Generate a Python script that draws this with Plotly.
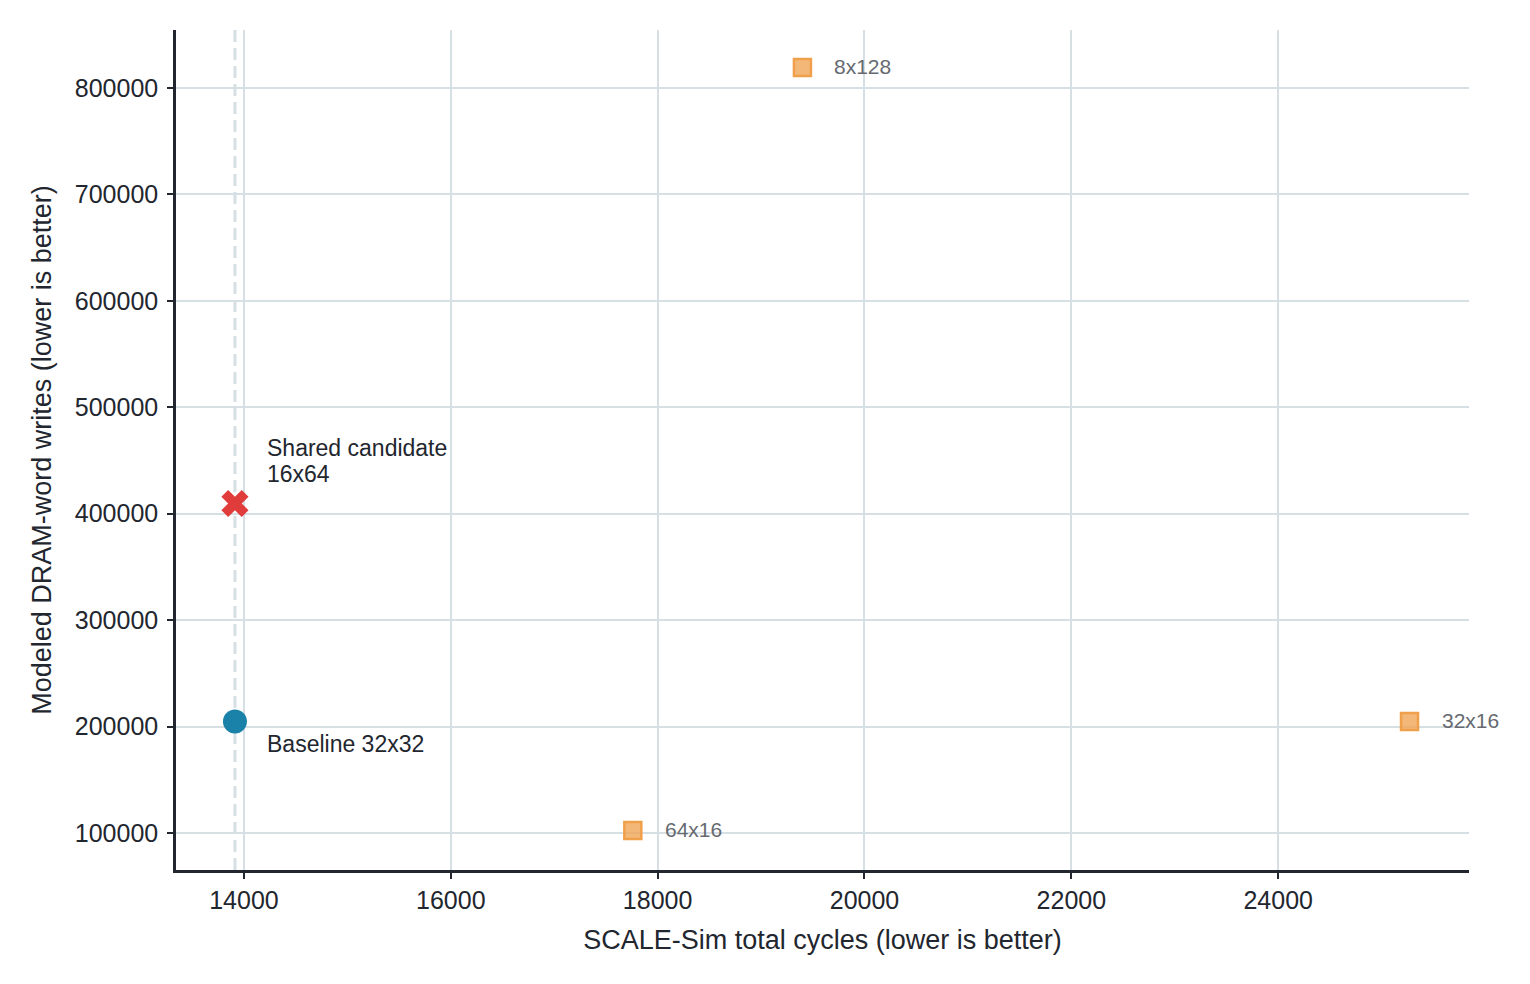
import plotly.graph_objects as go

# baseline / shared candidate / alternative array shapes
baseline_label = "Baseline 32x32"
baseline_cycles = [13913]
baseline_writes = [204800]

shared_label = ["Shared candidate", "16x64"]
shared_cycles = [13913]
shared_writes = [409600]

alt_labels = ["8x128", "64x16", "32x16"]
alt_cycles = [19400, 17760, 25270]
alt_writes = [819200, 102400, 204800]

y_ticks = [100000, 200000, 300000, 400000, 500000, 600000, 700000, 800000]
x_ticks = [14000, 16000, 18000, 20000, 22000, 24000]

FONT = "Liberation Sans, Arial, sans-serif"
GRID = "#d6dfe3"
AXIS = "#22262e"

fig = go.Figure()

fig.add_trace(go.Scatter(
    x=alt_cycles, y=alt_writes, mode="markers",
    marker=dict(symbol="square", size=17, color="rgba(240,165,85,0.8)",
                line=dict(color="#f0a04b", width=2.5)),
    cliponaxis=False, showlegend=False,
))

fig.add_trace(go.Scatter(
    x=baseline_cycles, y=baseline_writes, mode="markers",
    marker=dict(symbol="circle", size=24, color="#1a82a8"),
    cliponaxis=False, showlegend=False,
))

fig.add_trace(go.Scatter(
    x=shared_cycles, y=shared_writes, mode="markers",
    marker=dict(symbol="x", size=24, color="#e03c3c", line=dict(width=0)),
    cliponaxis=False, showlegend=False,
))

# reference line at the baseline cycle count
fig.add_vline(x=baseline_cycles[0], line=dict(color=GRID, width=3, dash="12px,6px"),
              layer="below")

for cx, wy, lab in zip(alt_cycles, alt_writes, alt_labels):
    fig.add_annotation(x=cx, y=wy, text=lab, showarrow=False,
                       xanchor="left", yanchor="middle", xshift=30, yshift=1,
                       font=dict(size=21, color="#666a70", family=FONT))

fig.add_annotation(x=baseline_cycles[0], y=baseline_writes[0], text=baseline_label,
                   showarrow=False, xanchor="left", yanchor="top",
                   xshift=30, yshift=-8, align="left",
                   font=dict(size=23, color=AXIS, family=FONT))
for i, line in enumerate(shared_label):
    fig.add_annotation(x=shared_cycles[0], y=shared_writes[0], text=line,
                       showarrow=False, xanchor="left", yanchor="middle",
                       xshift=30, yshift=55 - 26 * i, align="left",
                       font=dict(size=23, color=AXIS, family=FONT))

fig.update_layout(
    width=1522, height=976,
    margin=dict(l=168, r=61, t=22, b=114),
    plot_bgcolor="white", paper_bgcolor="white",
    font=dict(family=FONT, size=25, color=AXIS),
    xaxis=dict(
        title=dict(text="SCALE-Sim total cycles (lower is better)", standoff=18,
                   font=dict(size=27)),
        range=[13343, 25845], tickvals=x_ticks, ticktext=[str(v) for v in x_ticks],
        showgrid=True, gridcolor=GRID, gridwidth=2,
        showline=True, linecolor=AXIS, linewidth=2.5,
        ticks="outside", ticklen=6, tickwidth=2, tickcolor=AXIS,
        zeroline=False,
    ),
    yaxis=dict(
        title=dict(text="Modeled DRAM-word writes (lower is better)", standoff=16,
                   font=dict(size=27)),
        range=[65200, 854500], tickvals=y_ticks, ticktext=[str(v) for v in y_ticks],
        ticklabelstandoff=4,
        showgrid=True, gridcolor=GRID, gridwidth=2,
        showline=True, linecolor=AXIS, linewidth=2.5,
        ticks="outside", ticklen=6, tickwidth=2, tickcolor=AXIS,
        zeroline=False,
    ),
)

fig.write_html("out.html")
